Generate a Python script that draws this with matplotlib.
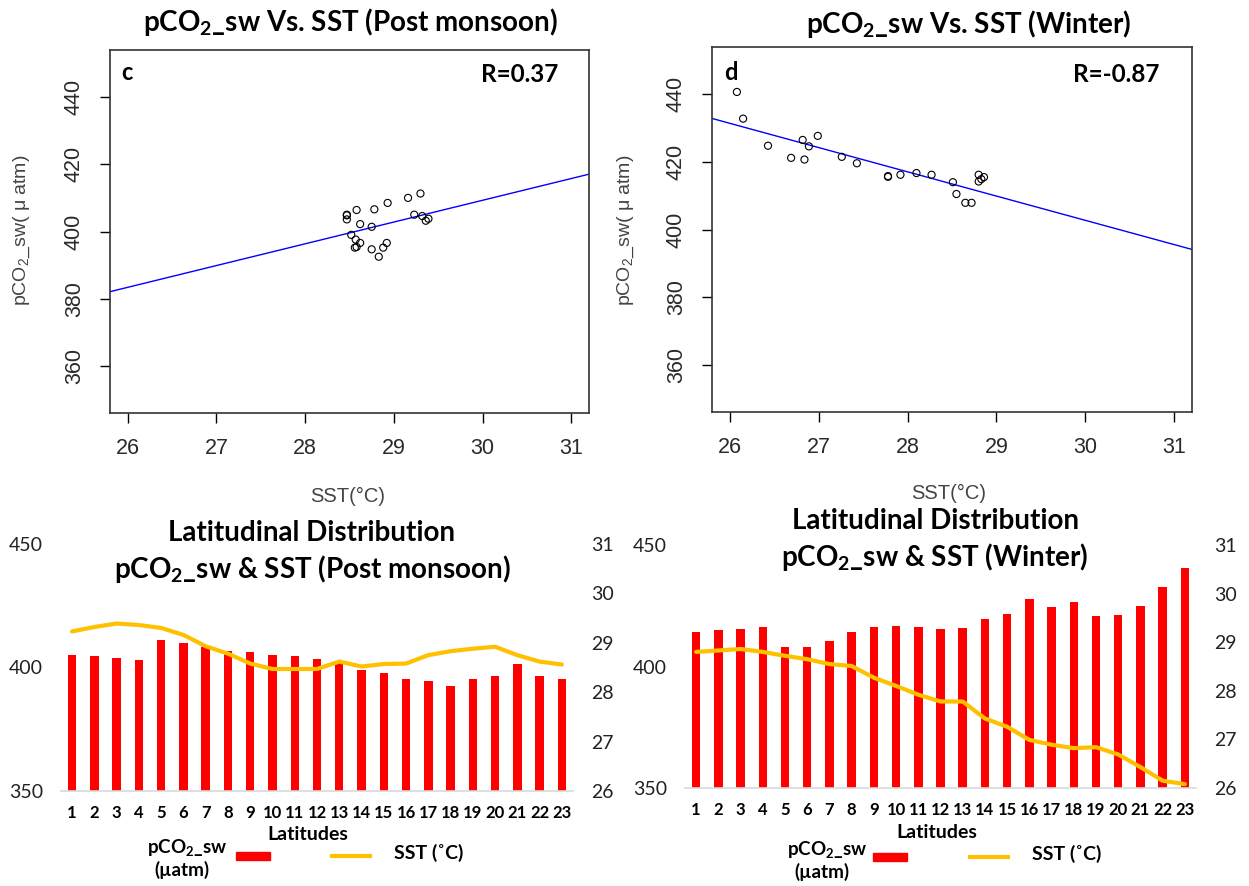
import numpy as np
import matplotlib
matplotlib.use('Agg')
import matplotlib.pyplot as plt
from matplotlib.patches import Rectangle
from matplotlib.lines import Line2D

# latitude bins 1..23
lats = list(range(1, 24))

# post monsoon: pCO2_sw (uatm) and SST (C) per latitude
pco2_post = [405.0, 404.6, 403.8, 403.2, 411.3, 410.0, 408.5, 406.6, 406.4, 405.0, 404.8, 403.6,
             402.2, 399.0, 397.6, 395.4, 394.7, 392.5, 395.2, 396.6, 401.4, 396.6, 395.2]
sst_post = [29.23, 29.32, 29.39, 29.36, 29.30, 29.16, 28.93, 28.78, 28.58, 28.47, 28.47, 28.47,
            28.62, 28.52, 28.57, 28.58, 28.75, 28.83, 28.88, 28.92, 28.75, 28.62, 28.56]

# winter
pco2_win = [414.2, 414.9, 415.5, 416.2, 407.9, 407.9, 410.5, 414.0, 416.2, 416.7, 416.2, 415.6,
            415.8, 419.6, 421.5, 427.7, 424.6, 426.5, 420.7, 421.2, 424.8, 432.8, 440.7]
sst_win = [28.80, 28.83, 28.86, 28.80, 28.72, 28.65, 28.55, 28.51, 28.27, 28.10, 27.92, 27.78,
           27.78, 27.43, 27.26, 26.99, 26.89, 26.82, 26.84, 26.69, 26.43, 26.15, 26.08]

r_post = 'R=0.37'
r_win = 'R=-0.87'

W, H = 1249, 886
fig = plt.figure(figsize=(W / 100, H / 100), dpi=100)

TF = ['Lato', 'DejaVu Sans']       # Calibri-ish text
RF = ['Liberation Sans', 'DejaVu Sans']  # R default (Arial-ish)


def box(l, t, r, b):
    return [l / W, 1 - b / H, (r - l) / W, (b - t) / H]


def ftext(x, y, s, **kw):
    fig.text(x / W, 1 - y / H, s, **kw)


def scatter_panel(rect, sst, pco2):
    ax = fig.add_axes(rect)
    ax.scatter(sst, pco2, s=26, facecolors='none', edgecolors='black', linewidths=0.8, zorder=3)
    m, c = np.polyfit(sst, pco2, 1)
    ax.axline((28, m * 28 + c), slope=m, color='blue', lw=1)
    ax.set_xlim(25.8, 31.2)
    ax.set_ylim(346, 454)
    ax.set_xticks(range(26, 32))
    ax.set_yticks(range(360, 441, 20))
    ax.tick_params(length=7, width=1, labelsize=15.5, labelcolor='#2a2a2a', pad=11)
    for lab in ax.get_xticklabels() + ax.get_yticklabels():
        lab.set_family(RF)
    for lab in ax.get_yticklabels():
        lab.set_rotation(90)
        lab.set_va('center')
    for s in ax.spines.values():
        s.set_color('#333333')
        s.set_linewidth(1.2)
    return ax


ax_c = scatter_panel(box(110, 50, 589, 413), sst_post, pco2_post)
ax_d = scatter_panel(box(712, 47, 1192, 412), sst_win, pco2_win)

ylab = r'pCO$_\mathregular{2}$_sw( $\mathregular{\mu}$ atm)'
ftext(22, 230, ylab, rotation=90, ha='center', va='center', fontsize=14, color='#444444', family=RF)
ftext(626, 230, ylab, rotation=90, ha='center', va='center', fontsize=14, color='#444444', family=RF)
ftext(348, 496, 'SST(°C)', ha='center', va='center', fontsize=14.5, color='#444444', family=RF)
ftext(949, 493, 'SST(°C)', ha='center', va='center', fontsize=14.5, color='#444444', family=RF)

ftext(350, 22, r'pCO$_\mathregular{2}$_sw Vs. SST (Post monsoon)', ha='center', va='center',
      fontsize=20, fontweight='bold', family=TF)
ftext(969, 24, r'pCO$_\mathregular{2}$_sw Vs. SST (Winter)', ha='center', va='center',
      fontsize=20, fontweight='bold', family=TF)
ftext(127, 72, 'c', ha='center', va='center', fontsize=17, fontweight='bold', family=TF)
ftext(520, 75, r_post, ha='center', va='center', fontsize=17.5, fontweight='bold', family=TF)
ftext(731, 72, 'd', ha='center', va='center', fontsize=17, fontweight='bold', family=TF)
ftext(1116, 75, r_win, ha='center', va='center', fontsize=17.5, fontweight='bold', family=TF)


def bar_panel(rect, pco2, sst):
    ax = fig.add_axes(rect)
    ax.bar(lats, pco2, width=0.38, color='#ff0000')
    ax.set_xlim(0.5, 23.5)
    ax.set_ylim(350, 450)
    ax.set_yticks([350, 400, 450])
    ax.set_xticks(lats)
    ax2 = ax.twinx()
    ax2.plot(lats, sst, color='#ffc000', lw=3, solid_joinstyle='round', solid_capstyle='round')
    ax2.set_ylim(26, 31)
    ax2.set_yticks(range(26, 32))
    for a in (ax, ax2):
        a.patch.set_visible(False)
        for s in a.spines.values():
            s.set_visible(False)
    ax.spines['bottom'].set_visible(True)
    ax.spines['bottom'].set_color('#d9d9d9')
    ax.spines['bottom'].set_linewidth(1.2)
    ax.tick_params(axis='y', length=0, labelsize=14, pad=13, labelcolor='#222222')
    ax2.tick_params(axis='y', length=0, labelsize=14, pad=13, labelcolor='#222222')
    ax.tick_params(axis='x', length=0, labelsize=12, pad=10)
    for lab in ax.get_xticklabels():
        lab.set_family(TF)
        lab.set_fontweight('bold')
    for lab in ax.get_yticklabels() + ax2.get_yticklabels():
        lab.set_family(TF)
    return ax


bar_panel(box(61, 544, 573, 791), pco2_post, sst_post)
bar_panel(box(685, 545, 1196, 788), pco2_win, sst_win)

ftext(312, 533, 'Latitudinal Distribution', ha='center', va='center', fontsize=20,
      fontweight='bold', family=TF)
ftext(312, 569, r'pCO$_\mathregular{2}$_sw & SST (Post monsoon)', ha='center', va='center',
      fontsize=20, fontweight='bold', family=TF)
ftext(935, 521, 'Latitudinal Distribution', ha='center', va='center', fontsize=20,
      fontweight='bold', family=TF)
ftext(935, 557, r'pCO$_\mathregular{2}$_sw & SST (Winter)', ha='center', va='center',
      fontsize=20, fontweight='bold', family=TF)


def legend_block(xlat, ylat, xp, yp, xr, xl, ys):
    ftext(xlat, ylat, 'Latitudes', ha='center', va='center', fontsize=14, fontweight='bold', family=TF)
    ftext(xp, yp, r'pCO$_\mathregular{2}$_sw', ha='left', va='center', fontsize=13.5,
          fontweight='bold', family=TF)
    ftext(xp + 7, yp + 22, '(µatm)', ha='left', va='center', fontsize=13.5, fontweight='bold', family=TF)
    fig.add_artist(Rectangle((xr / W, 1 - (ys + 4) / H), 34 / W, 8 / H, color='#ff0000',
                             transform=fig.transFigure))
    fig.add_artist(Line2D([xl / W, (xl + 38) / W], [1 - ys / H, 1 - ys / H], color='#ffc000',
                          lw=3, transform=fig.transFigure))
    ftext(xl + 62, ys - 3, 'SST (˚C)', ha='left', va='center', fontsize=14, fontweight='bold', family=TF)


legend_block(308, 835, 147, 848, 236, 332, 856)
legend_block(937, 833, 787, 850, 873, 970, 857)

fig.savefig('out.png', dpi=100)
